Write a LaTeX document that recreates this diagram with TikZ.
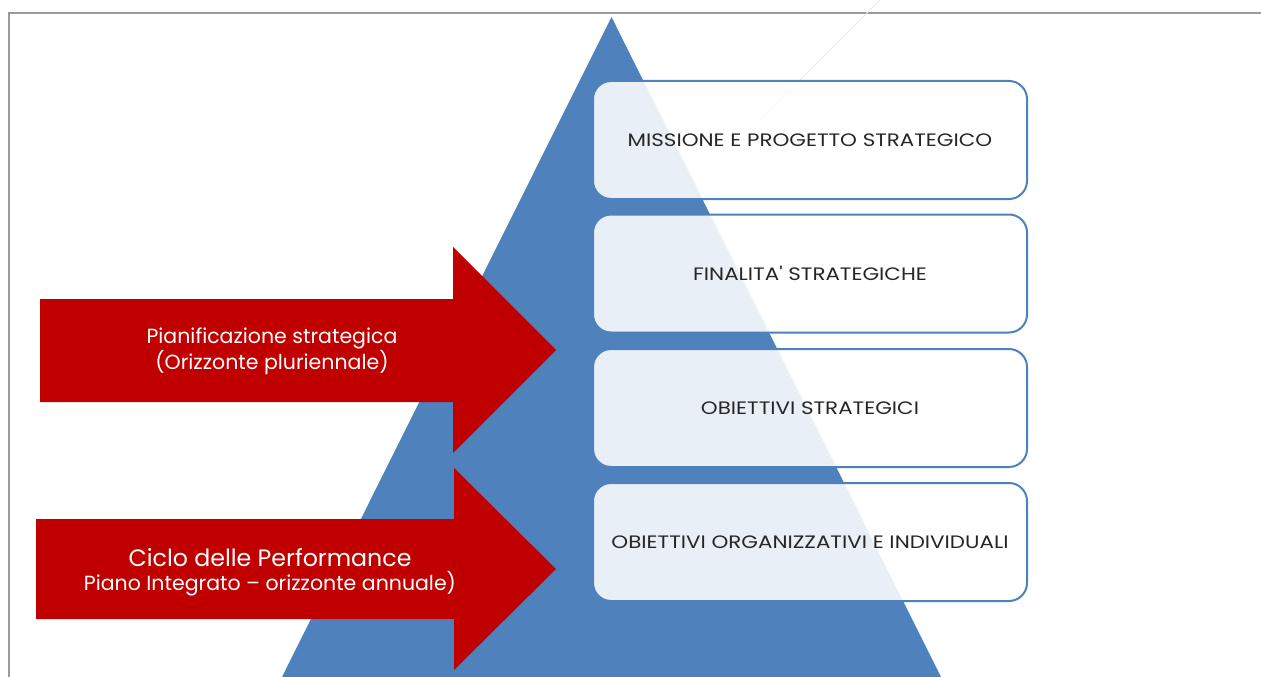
\documentclass[tikz,border=0pt]{standalone}
\usepackage{fontspec}
\setmainfont{Poppins}
\newfontfamily\boxfont{Poppins}[FakeStretch=1.19]
\definecolor{pyrblue}{HTML}{4F81BD}
\definecolor{arrred}{HTML}{C00000}
\definecolor{framegray}{HTML}{9A9A9A}
\tikzset{
  levelbox/.style={draw=pyrblue, line width=2pt, fill=white, fill opacity=0.88, text opacity=1,
    rounded corners=18pt, minimum width=434pt, minimum height=118pt, inner sep=0pt,
    text=black!85, font=\boxfont\fontsize{18}{21}\selectfont},
  arrowshape/.style={fill=arrred, draw=none},
  arrowtext/.style={text=white, align=center, inner sep=0pt}
}
\begin{document}
\begin{tikzpicture}[x=1pt,y=-1pt]
\useasboundingbox (0,0) rectangle (1261,677);
% frame
\draw[framegray, line width=2pt] (9,677) -- (9,13) -- (1261,13);
% pyramid
\coordinate (apex) at (611.5,17);
\coordinate (bl) at (282,677);
\coordinate (br) at (941,677);
\fill[pyrblue] (apex) -- (br) -- (bl) -- cycle;
% faint diagonal line
\draw[gray!15, line width=0.8pt] (880,0) -- (760,120);
% level boxes
\node[levelbox] (l1) at (810,140) {MISSIONE E PROGETTO STRATEGICO};
\node[levelbox] (l2) at (810,273.5) {FINALITA{\char"0027} STRATEGICHE};
\node[levelbox] (l3) at (810,408) {OBIETTIVI STRATEGICI};
\node[levelbox] (l4) at (810,542) {OBIETTIVI ORGANIZZATIVI E INDIVIDUALI};
% arrow 1
\fill[arrowshape] (40,299) -- (453,299) -- (453,247) -- (556,350) -- (453,453) -- (453,402) -- (40,402) -- cycle;
\node[arrowtext, font=\fontsize{20.5}{26}\selectfont] (a1) at (272,351) {Pianificazione strategica\\(Orizzonte pluriennale)};
% arrow 2
\fill[arrowshape] (36,519) -- (454,519) -- (454,468) -- (556,569) -- (454,670) -- (454,619) -- (36,619) -- cycle;
\node[arrowtext] (a2a) at (270,558) {\fontsize{23.7}{26}\selectfont Ciclo delle Performance};
\node[arrowtext] (a2b) at (270,584) {\fontsize{20.5}{23}\selectfont Piano Integrato – orizzonte annuale)};
\end{tikzpicture}
\end{document}
